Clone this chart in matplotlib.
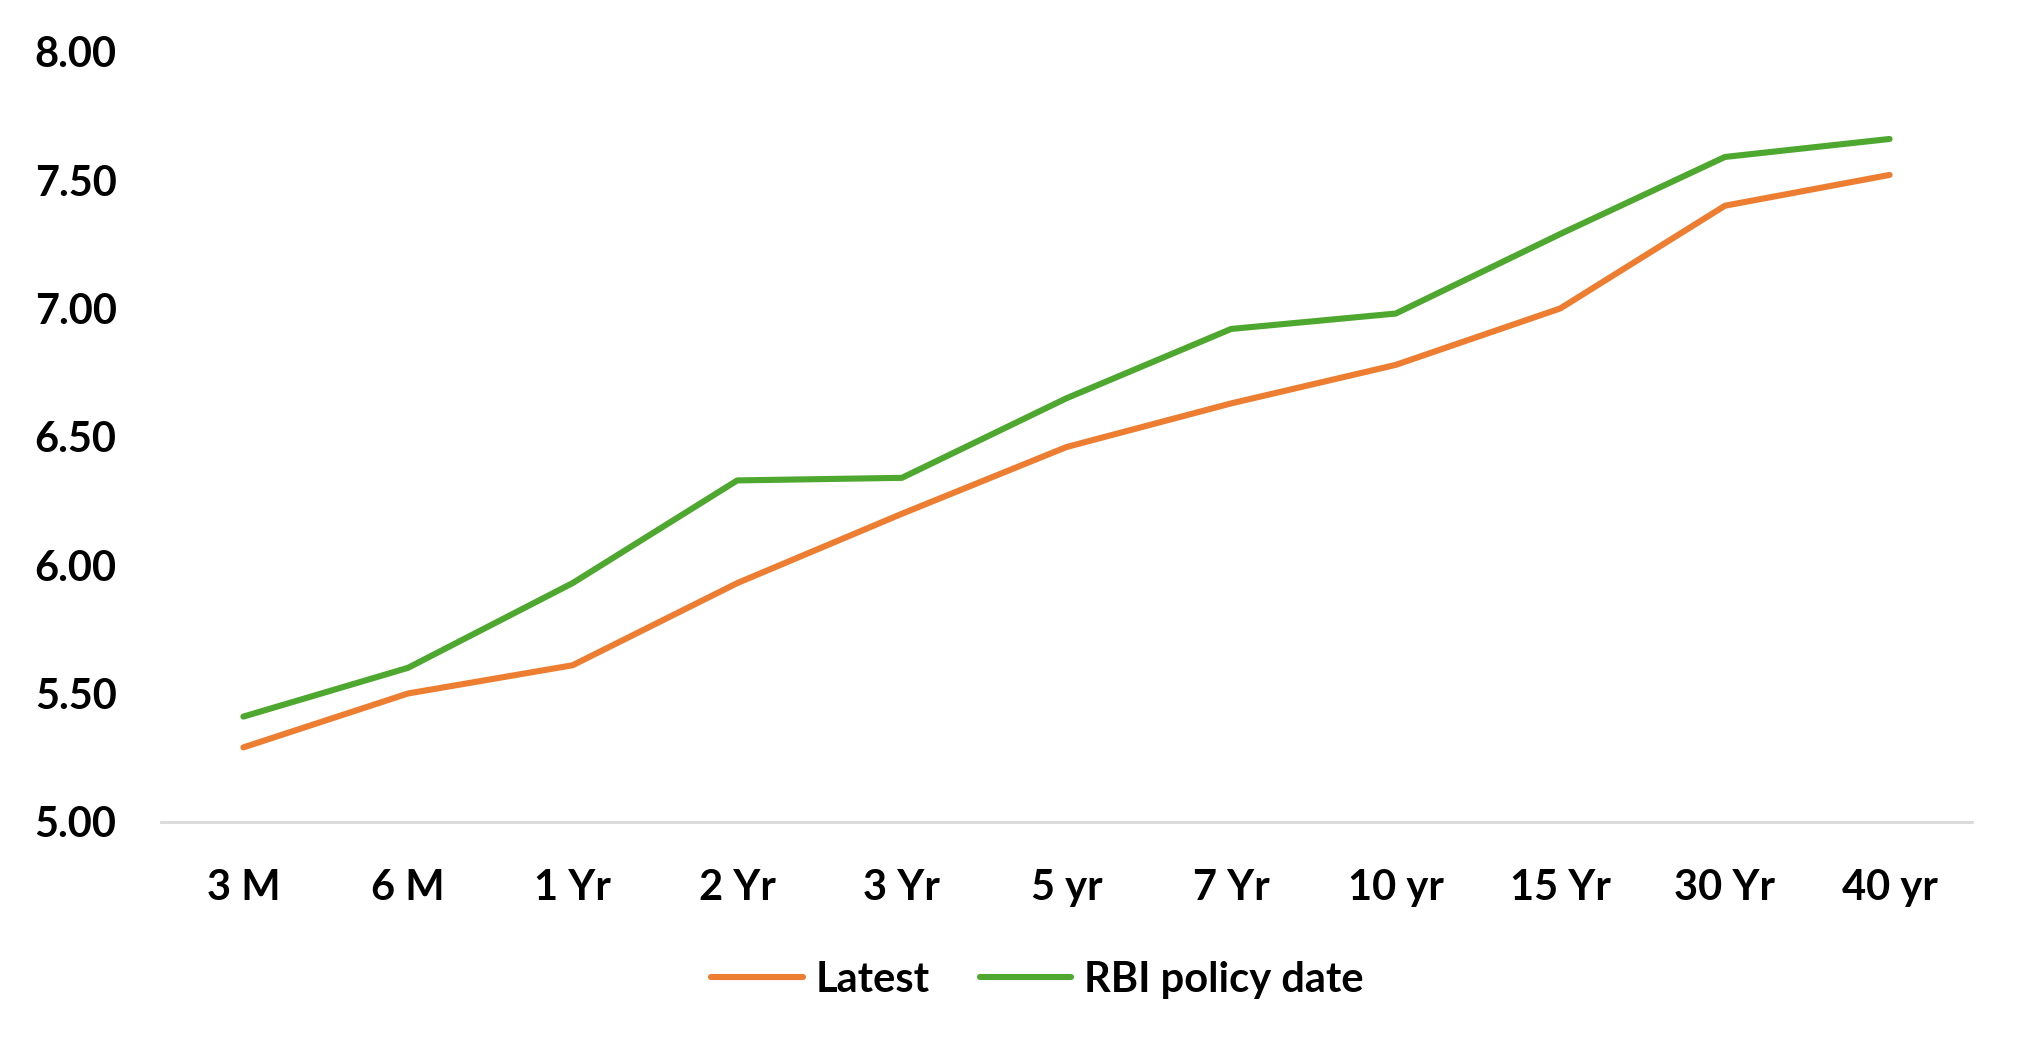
import matplotlib
matplotlib.use("Agg")
import matplotlib.pyplot as plt

# tenor buckets on the x axis
tenors = ["3 M", "6 M", "1 Yr", "2 Yr", "3 Yr", "5 yr", "7 Yr", "10 yr", "15 Yr", "30 Yr", "40 yr"]

# yields (%)
latest = [5.29, 5.50, 5.61, 5.93, 6.20, 6.46, 6.63, 6.78, 7.00, 7.40, 7.52]
rbi_policy_date = [5.41, 5.60, 5.93, 6.33, 6.34, 6.65, 6.92, 6.98, 7.29, 7.59, 7.66]

y_ticks = [5.00, 5.50, 6.00, 6.50, 7.00, 7.50, 8.00]

ORANGE = "#ED7D31"
GREEN = "#4EA72E"

plt.rcParams["font.family"] = ["Lato", "DejaVu Sans"]
plt.rcParams["font.weight"] = "bold"


def main():
    fig = plt.figure(figsize=(20.21, 10.55), dpi=100)
    ax = fig.add_axes([0.0797, 0.221, 0.896, 0.730])

    x = range(len(tenors))
    ax.plot(x, latest, color=ORANGE, lw=4.4, solid_capstyle="round",
            solid_joinstyle="round", label="Latest")
    ax.plot(x, rbi_policy_date, color=GREEN, lw=4.4, solid_capstyle="round",
            solid_joinstyle="round", label="RBI policy date")

    ax.set_xlim(-0.5, len(tenors) - 0.5)
    ax.set_ylim(5.0, 8.0)
    ax.set_xticks(list(x))
    ax.set_xticklabels(tenors)
    ax.set_yticks(y_ticks)
    ax.set_yticklabels([f"{v:.2f}" for v in y_ticks])
    ax.tick_params(axis="both", length=0, labelsize=30)
    ax.tick_params(axis="y", pad=32)
    ax.tick_params(axis="x", pad=34)

    for side in ["top", "right", "left"]:
        ax.spines[side].set_visible(False)
    ax.spines["bottom"].set_color("#D9D9D9")
    ax.spines["bottom"].set_linewidth(2)

    leg = ax.legend(loc="center", bbox_to_anchor=(0.484, -0.205), ncol=2,
                    frameon=False, fontsize=30, handlelength=2.2,
                    handletextpad=0.3, columnspacing=1.2)
    for line in leg.get_lines():
        line.set_solid_capstyle("round")

    fig.savefig("out.png", dpi=100)


if __name__ == "__main__":
    main()
